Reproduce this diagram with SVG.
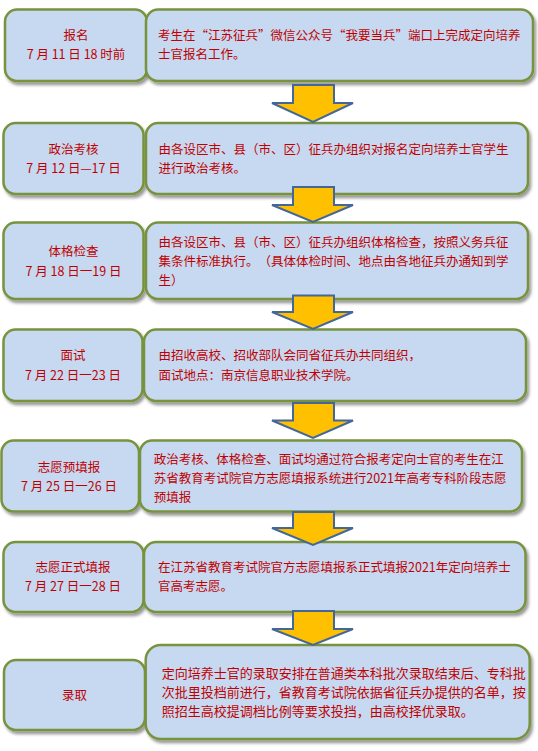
<svg xmlns="http://www.w3.org/2000/svg" width="538" height="751" viewBox="0 0 538 751">
<style>
.box{fill:#C6D9F1;stroke:#77933C;stroke-width:2.5;filter:url(#sh)}
.t{font-family:"Noto Sans CJK SC","Noto Sans",sans-serif;font-size:12.5px;fill:#C00000;text-spacing-trim:space-all}
.c{text-anchor:middle}
.b7{font-size:13px}
.arr{fill:#FFC000;stroke:#44679A;stroke-width:2;stroke-linejoin:miter}
</style>
<defs>
<filter id="sh" x="-10%" y="-10%" width="120%" height="130%">
<feDropShadow dx="2" dy="3" stdDeviation="1.6" flood-color="#000" flood-opacity="0.4"/>
</filter>
</defs>
<rect width="538" height="751" fill="#fff"/>

<g id="node1">
<rect class="box" x="5" y="9.5" width="142" height="71.5" rx="12"/>
<rect class="box" x="146" y="9.5" width="387" height="71.5" rx="12"/>
<text class="t c" x="76" y="39.8">报名</text>
<text class="t c" x="76" y="59">7 月 11 日 18 时前</text>
<text class="t" x="158" y="39.8">考生在“江苏征兵”微信公众号“我要当兵”端口上完成定向培养</text>
<text class="t" x="158" y="59">士官报名工作。</text>
</g>

<g id="node2">
<rect class="box" x="3.5" y="123" width="140" height="71" rx="12"/>
<rect class="box" x="146" y="123" width="382" height="71" rx="12"/>
<text class="t c" x="73.5" y="154">政治考核</text>
<text class="t c" x="73.5" y="173">7 月 12 日—17 日</text>
<text class="t" x="158.5" y="154">由各设区市、县（市、区）征兵办组织对报名定向培养士官学生</text>
<text class="t" x="158.5" y="173">进行政治考核。</text>
</g>

<g id="node3">
<rect class="box" x="3.5" y="222.5" width="140" height="76.5" rx="12"/>
<rect class="box" x="146" y="222.5" width="382" height="76.5" rx="12"/>
<text class="t c" x="73.5" y="255.8">体格检查</text>
<text class="t c" x="73.5" y="275.5">7 月 18 日一19 日</text>
<text class="t" x="158.5" y="247">由各设区市、县（市、区）征兵办组织体格检查，按照义务兵征</text>
<text class="t" x="158.5" y="266">集条件标准执行。（具体体检时间、地点由各地征兵办通知到学</text>
<text class="t" x="158.5" y="285">生）</text>
</g>

<g id="node4">
<rect class="box" x="3.5" y="329.5" width="139" height="71.5" rx="12"/>
<rect class="box" x="144" y="329.5" width="382" height="71.5" rx="12"/>
<text class="t c" x="73" y="359.5">面试</text>
<text class="t c" x="73" y="379.5">7 月 22 日一23 日</text>
<text class="t" x="158.5" y="359.5">由招收高校、招收部队会同省征兵办共同组织，</text>
<text class="t" x="158.5" y="379.5">面试地点：南京信息职业技术学院。</text>
</g>

<g id="node5">
<rect class="box" x="1.5" y="440.5" width="137.5" height="71" rx="12"/>
<rect class="box" x="140" y="440.5" width="382" height="71" rx="12"/>
<text class="t c" x="69" y="471.5">志愿预填报</text>
<text class="t c" x="69" y="491">7 月 25 日一26 日</text>
<text class="t" x="153.7" y="464">政治考核、体格检查、面试均通过符合报考定向士官的考生在江</text>
<text class="t" x="153.7" y="483">苏省教育考试院官方志愿填报系统进行2021年高考专科阶段志愿</text>
<text class="t" x="153.7" y="502">预填报</text>
</g>

<g id="node6">
<rect class="box" x="3.5" y="542" width="140" height="70" rx="12"/>
<rect class="box" x="144" y="542" width="381.5" height="70" rx="12"/>
<text class="t c" x="73" y="571.8">志愿正式填报</text>
<text class="t c" x="73" y="591.3">7 月 27 日一28 日</text>
<text class="t" x="158" y="571.8">在江苏省教育考试院官方志愿填报系正式填报2021年定向培养士</text>
<text class="t" x="158" y="591.3">官高考志愿。</text>
</g>

<g id="node7">
<rect class="box" x="4" y="660" width="141" height="70" rx="12"/>
<rect class="box" x="145.7" y="645" width="384" height="94" rx="15"/>
<text class="t c" x="74.5" y="699.8">录取</text>
<text class="t b7" x="161.7" y="678">定向培养士官的录取安排在普通类本科批次录取结束后、专科批</text>
<text class="t b7" x="161.7" y="697">次批里投档前进行，省教育考试院依据省征兵办提供的名单，按</text>
<text class="t b7" x="161.7" y="716">照招生高校提调档比例等要求投挡，由高校择优录取。</text>
</g>

<g id="connectors">
<polygon class="arr" points="293,85 334,85 334,103 353,103 313,122 272,103 293,103"/>
<polygon class="arr" points="293,187 334,187 334,205 353,205 313,222 272,205 293,205"/>
<polygon class="arr" points="293,295.5 334,295.5 334,312 353,312 313,329 272,312 293,312"/>
<polygon class="arr" points="293,403 334,403 334,420.5 353,420.5 313,438 272,420.5 293,420.5"/>
<polygon class="arr" points="293,512 334,512 334,528 353,528 313,545 272,528 293,528"/>
<polygon class="arr" points="293,611 334,611 334,629 353,629 313,645 272,629 293,629"/>
</g>
</svg>
